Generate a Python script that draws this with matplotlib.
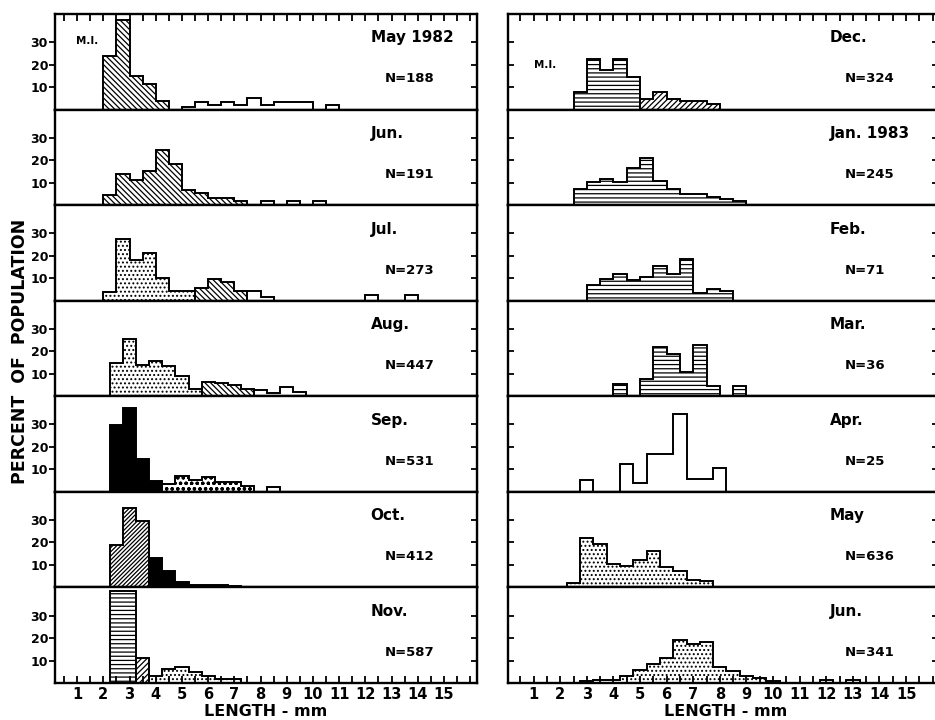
import numpy as np
import matplotlib.pyplot as plt

plt.rcParams['font.family'] = ['DejaVu Sans']
plt.rcParams['font.weight'] = 'bold'
plt.rcParams['hatch.linewidth'] = 0.9

# blocks: (lower edge of first 0.5 mm length class, percent in each class)
may82_a = (2.0, [24, 40, 15, 11.5, 3.7])
may82_b = (5.0, [1, 3.5, 2, 3.5, 2, 5, 2, 3.5, 3.5, 3.5, 0, 2])
jun82_a = (2.0, [4.4, 14, 11, 15, 24.5, 18.5, 6.7, 5.5, 3, 3, 2])
jun82_b = (8.0, [2, 0, 2, 0, 2])
jul82_a = (2.0, [4, 27.4, 18, 21, 10, 4.3, 4.3])
jul82_b = (5.5, [5.8, 9.5, 8.4, 4.3])
jul82_c = (7.5, [4.3, 1.8])
jul82_d = (12.0, [2.5, 0, 0, 2.5])
aug82_a = (2.25, [15, 25.5, 14, 15.8, 13.6, 8.9, 3.3])
aug82_b = (5.75, [6.2, 6.0, 5.0, 3.3])
aug82_c = (7.75, [2.8, 1.5, 4.0, 2.0])
sep82_a = (2.25, [29.6, 37.3, 14.4, 4.7])
sep82_b = (4.25, [3.3, 7.0, 5.2, 6.7, 4.3, 4.3, 2.8])
sep82_c = (8.25, [2.2])
oct82_a = (2.25, [18.7, 35.2, 29.6])
oct82_b = (3.75, [13.3, 7.4, 2.2, 1, 1, 1, 0.5])
nov82_a = (2.25, [41, 41])
nov82_b = (3.25, [11])
nov82_c = (3.75, [3, 6.4, 7.1, 4.9, 3, 2, 2])

dec82_a = (2.5, [7.8, 22.7, 17.5, 22.7, 14.5])
dec82_b = (5.0, [4.8, 7.6, 4.9, 3.7, 3.7, 2.4])
jan83 = (2.5, [7.4, 10.1, 11.6, 10.1, 16.4, 20.9, 10.8, 7.1, 4.9, 4.9, 3.4, 2.7, 2.0])
feb83 = (3.0, [7.1, 9.6, 11.8, 9.3, 10.4, 15.6, 11.8, 18.7, 3.4, 5.3, 4.1])
mar83 = (4.0, [5.5, 0, 7.7, 21.8, 18.8, 10.8, 22.7, 4.7, 0, 4.4])
apr83 = (2.75, [5.2, 0, 0, 12.3, 4.1, 17, 17, 34.5, 5.9, 5.9, 10.4])
may83 = (2.25, [1.9, 22.2, 19.3, 10.4, 9.6, 12.3, 16, 8.9, 7.4, 3.3, 2.7])
jun83_a = (2.75, [0.8, 1.2, 1.5, 3, 5.6, 8.3, 11.3, 19.3, 17.2, 18.2, 7.1, 5.3, 3, 2.4, 1])
jun83_b = (11.75, [1.5, 0, 1.5])

left_months = ['May 1982', 'Jun.', 'Jul.', 'Aug.', 'Sep.', 'Oct.', 'Nov.']
left_n = [188, 191, 273, 447, 531, 412, 587]
right_months = ['Dec.', 'Jan. 1983', 'Feb.', 'Mar.', 'Apr.', 'May', 'Jun.']
right_n = [324, 245, 71, 36, 25, 636, 341]

left_blocks = [
    [(may82_a, 'back'), (may82_b, 'open')],
    [(jun82_a, 'back'), (jun82_b, 'open')],
    [(jul82_a, 'dots'), (jul82_b, 'back'), (jul82_c, 'open'), (jul82_d, 'open')],
    [(aug82_a, 'dots'), (aug82_b, 'back'), (aug82_c, 'open')],
    [(sep82_a, 'black'), (sep82_b, 'circ'), (sep82_c, 'open')],
    [(oct82_a, 'dense'), (oct82_b, 'black')],
    [(nov82_a, 'hlines'), (nov82_b, 'fwd'), (nov82_c, 'dots')],
]
right_blocks = [
    [(dec82_a, 'hlines'), (dec82_b, 'fwd')],
    [(jan83, 'hlines')],
    [(feb83, 'hlines')],
    [(mar83, 'hlines')],
    [(apr83, 'open')],
    [(may83, 'dots')],
    [(jun83_a, 'dots'), (jun83_b, 'open')],
]

hatches = {'back': '\\\\\\\\\\\\', 'dots': '....', 'circ': 'ooo', 'dense': '////////',
           'fwd': '//////', 'hlines': '----'}


def draw_block(ax, block, style):
    start, vals = block
    edges = start + 0.5 * np.arange(len(vals) + 1)
    if style == 'open':
        ax.stairs(vals, edges, baseline=0, fill=False, color='black', lw=1.4)
    elif style == 'black':
        ax.stairs(vals, edges, baseline=0, fill=True, facecolor='black',
                  edgecolor='black', linewidth=1.4)
    else:
        ax.stairs(vals, edges, baseline=0, fill=True, facecolor='white',
                  edgecolor='black', linewidth=1.4, hatch=hatches[style])


fig = plt.figure(figsize=(9.35, 7.2), dpi=100)
W, H = 935.0, 720.0
top, bottom = 14.0, 683.0
ph = (bottom - top) / 7

columns = [
    (55, 477, (0.153, 16.26), left_blocks, left_months, left_n),
    (508, 938, (0.038, 16.2), right_blocks, right_months, right_n),
]

for col, (x0, x1, xl, blocks, months, ns) in enumerate(columns):
    for i in range(7):
        yt = top + i * ph
        ax = fig.add_axes([x0 / W, 1 - (yt + ph) / H, (x1 - x0) / W, ph / H])
        for block, style in blocks[i]:
            draw_block(ax, block, style)
        ax.set_xlim(*xl)
        ax.set_ylim(0, 42.5)
        for s in ax.spines.values():
            s.set_linewidth(1.7)

        ax.set_yticks([10, 20, 30])
        if col == 0:
            ax.tick_params(axis='y', direction='out', length=4, width=1.3,
                           labelsize=9, pad=1)
            sec = ax.secondary_yaxis('right')
            sec.set_yticks([10, 20, 30])
            sec.tick_params(direction='in', length=4, width=1.3, labelright=False)
        else:
            ax.tick_params(axis='y', direction='in', length=4, width=1.3,
                           left=True, right=True, labelleft=False)

        halves = np.arange(0.5, 16.01, 0.5)
        if i == 0:
            ax.set_xticks(halves)
            ax.tick_params(axis='x', direction='in', length=5, width=1.3,
                           top=True, bottom=False, labeltop=False, labelbottom=False)
        elif i == 6:
            ax.set_xticks(halves)
            ax.set_xticklabels([str(int(v)) if v == int(v) and v < 16 else ''
                                for v in halves])
            ax.tick_params(axis='x', direction='in', length=5, width=1.3,
                           labelsize=10.5, pad=3)
        else:
            ax.tick_params(axis='x', bottom=False, labelbottom=False)

        ax.text(0.748, 0.75, months[i], transform=ax.transAxes, ha='left',
                va='center', fontsize=11)
        ax.text(0.782, 0.32, 'N=%d' % ns[i], transform=ax.transAxes, ha='left',
                va='center', fontsize=9.5)
        if i == 0:
            if col == 0:
                ax.text(0.076, 0.72, 'M.I.', transform=ax.transAxes, ha='center',
                        va='center', fontsize=7.5)
            else:
                ax.text(0.086, 0.47, 'M.I.', transform=ax.transAxes, ha='center',
                        va='center', fontsize=7.5)

fig.text(266 / W, 1 - 711 / H, 'LENGTH - mm', ha='center', va='center', fontsize=11.5)
fig.text(726 / W, 1 - 711 / H, 'LENGTH - mm', ha='center', va='center', fontsize=11.5)
fig.text(20 / W, 1 - 351 / H, 'PERCENT  OF  POPULATION', rotation=90,
         ha='center', va='center', fontsize=12.5)

fig.savefig('out.png', dpi=100)
